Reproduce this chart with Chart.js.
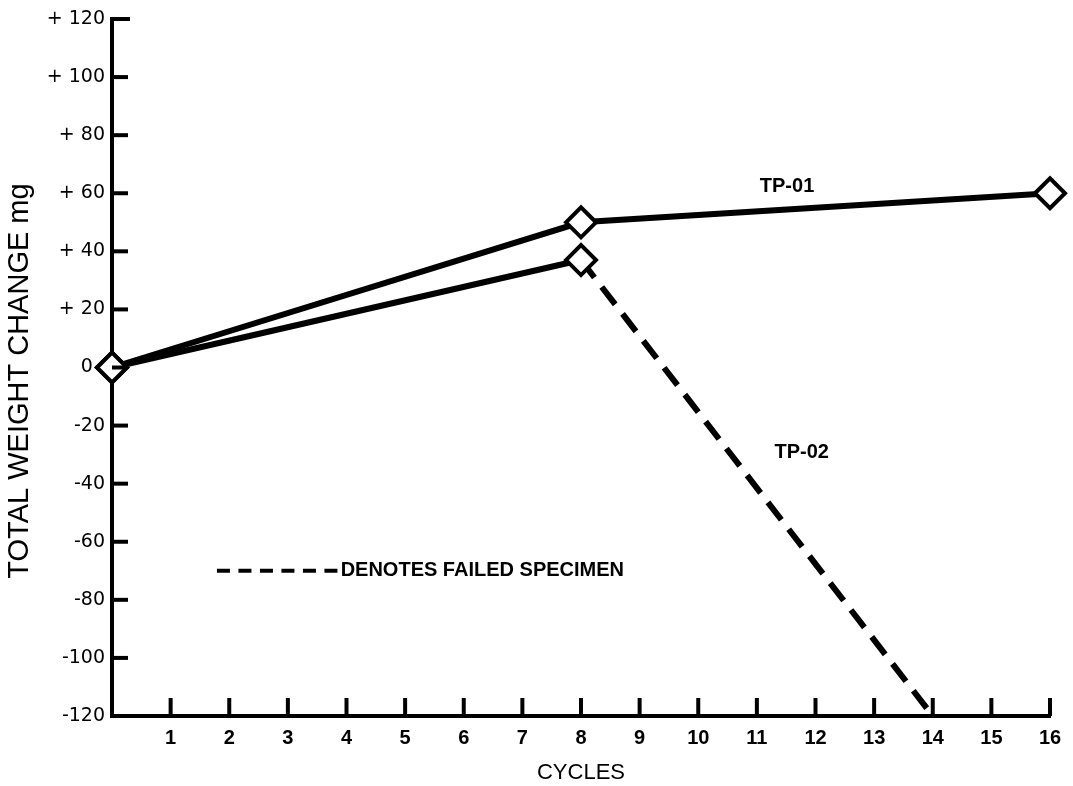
<!DOCTYPE html>
<html>
<head>
<meta charset="utf-8">
<script src="https://cdn.jsdelivr.net/npm/chart.js@4/dist/chart.umd.min.js"></script>
<style>
html,body{margin:0;padding:0;background:#fff;}
#wrap{width:1073px;height:786px;position:relative;}
</style>
</head>
<body>
<div id="wrap"><canvas id="c" width="1073" height="786"></canvas></div>
<script>
// ---- data ----
const cycles01 = [0, 8, 16];
const weight01 = [0, 50, 60];
const cycles02 = [0, 8, 14];
const weight02 = [0, 37, -120];
const yTickValues = [-120, -100, -80, -60, -40, -20, 0, 20, 40, 60, 80, 100, 120];
const yTickLabels = ['-120', '-100', '-80', '-60', '-40', '-20', '0  ', '+ 20', '+ 40', '+ 60', '+ 80', '+ 100', '+ 120'];
const xTickValues = [1, 2, 3, 4, 5, 6, 7, 8, 9, 10, 11, 12, 13, 14, 15, 16];
const seriesNames = ['TP-01', 'TP-02'];
const legendText = 'DENOTES FAILED SPECIMEN';
const xTitle = 'CYCLES';
const yTitle = 'TOTAL WEIGHT CHANGE mg';

const SANS = "'Liberation Sans', Arial, Helvetica, sans-serif";
const WIDE = "'DejaVu Sans', 'Liberation Sans', sans-serif";

const toPts = (xs, ys) => xs.map((x, i) => ({x: x, y: ys[i]}));

const whiteBg = {
  id: 'whiteBg',
  beforeDraw(chart) {
    const ctx = chart.ctx;
    ctx.save();
    ctx.fillStyle = '#fff';
    ctx.fillRect(0, 0, chart.width, chart.height);
    ctx.restore();
  }
};

const innerTicks = {
  id: 'innerTicks',
  afterDraw(chart) {
    const ctx = chart.ctx;
    const xs = chart.scales.x, ys = chart.scales.y;
    const axX = xs.getPixelForValue(0);
    const axY = ys.getPixelForValue(-120);
    ctx.save();
    ctx.strokeStyle = '#000';
    ctx.lineCap = 'butt';
    ctx.lineWidth = 4;
    yTickValues.forEach(v => {
      if (v === -120) return;
      const py = ys.getPixelForValue(v);
      ctx.beginPath();
      ctx.moveTo(axX, py);
      ctx.lineTo(axX + (v === 120 ? 18 : 16), py);
      ctx.stroke();
    });
    ctx.lineWidth = 4;
    xTickValues.forEach(v => {
      const px = xs.getPixelForValue(v);
      ctx.beginPath();
      ctx.moveTo(px, axY);
      ctx.lineTo(px, axY - 18);
      ctx.stroke();
    });
    ctx.restore();
  }
};

const annotations = {
  id: 'annotations',
  afterDatasetsDraw(chart) {
    const ctx = chart.ctx;
    const xs = chart.scales.x, ys = chart.scales.y;
    ctx.save();
    ctx.fillStyle = '#000';
    ctx.font = 'bold 20px ' + SANS;
    ctx.textBaseline = 'middle';
    ctx.textAlign = 'left';
    ctx.fillText(seriesNames[0], xs.getPixelForValue(11.05), ys.getPixelForValue(62.5));
    ctx.fillText(seriesNames[1], xs.getPixelForValue(11.3), ys.getPixelForValue(-29.3));
    // legend dashed sample
    const ly = ys.getPixelForValue(-70);
    ctx.strokeStyle = '#000';
    ctx.lineWidth = 4;
    ctx.setLineDash([13, 8.5]);
    ctx.beginPath();
    ctx.moveTo(xs.getPixelForValue(1.79), ly);
    ctx.lineTo(xs.getPixelForValue(3.85), ly);
    ctx.stroke();
    ctx.setLineDash([]);
    ctx.fillText(legendText, xs.getPixelForValue(3.9), ly);
    // y-axis title
    ctx.font = '29px ' + SANS;
    ctx.textAlign = 'center';
    ctx.translate(20, 381);
    ctx.rotate(-Math.PI / 2);
    ctx.fillText(yTitle, 0, 0);
    ctx.restore();
  }
};

new Chart(document.getElementById('c'), {
  type: 'line',
  data: {
    datasets: [
      {
        label: seriesNames[0],
        data: toPts(cycles01, weight01),
        borderColor: '#000',
        borderWidth: 6,
        pointStyle: 'rectRot',
        pointRadius: 15,
        pointBorderWidth: 4,
        pointBorderColor: '#000',
        pointBackgroundColor: '#fff',
        clip: false,
        tension: 0
      },
      {
        label: seriesNames[1],
        data: toPts(cycles02, weight02),
        borderColor: '#000',
        borderWidth: 6,
        pointStyle: 'rectRot',
        pointRadius: [15, 15, 0],
        pointBorderWidth: 4,
        pointBorderColor: '#000',
        pointBackgroundColor: '#fff',
        clip: false,
        tension: 0,
        segment: {
          borderDash: ctx => ctx.p0DataIndex >= 1 ? [22, 12] : undefined
        }
      }
    ]
  },
  options: {
    responsive: false,
    animation: false,
    events: [],
    layout: {padding: {top: 15, right: 23, left: 0, bottom: 0}},
    plugins: {legend: {display: false}, tooltip: {enabled: false}},
    scales: {
      x: {
        type: 'linear',
        min: 0, max: 16,
        afterFit: s => { s.height = 70; },
        afterBuildTicks: s => { s.ticks = xTickValues.map(v => ({value: v})); },
        grid: {display: false, drawTicks: false},
        border: {display: true, color: '#000', width: 4},
        ticks: {
          color: '#000',
          font: {family: SANS, size: 20, weight: 'bold'},
          padding: 10,
          maxRotation: 0,
          autoSkip: false,
          callback: v => String(v)
        },
        title: {
          display: true, text: xTitle, color: '#000',
          font: {family: SANS, size: 22, weight: 'normal'},
          padding: {top: 0, bottom: 0}
        }
      },
      y: {
        type: 'linear',
        min: -120, max: 120,
        afterFit: s => { s.width = 112; },
        afterBuildTicks: s => { s.ticks = yTickValues.map(v => ({value: v})); },
        grid: {display: false, drawTicks: false},
        border: {display: true, color: '#000', width: 4},
        ticks: {
          color: '#000',
          font: {family: WIDE, size: 19},
          padding: 7,
          autoSkip: false,
          callback: v => yTickLabels[yTickValues.indexOf(v)]
        }
      }
    }
  },
  plugins: [whiteBg, innerTicks, annotations]
});
</script>
</body>
</html>
